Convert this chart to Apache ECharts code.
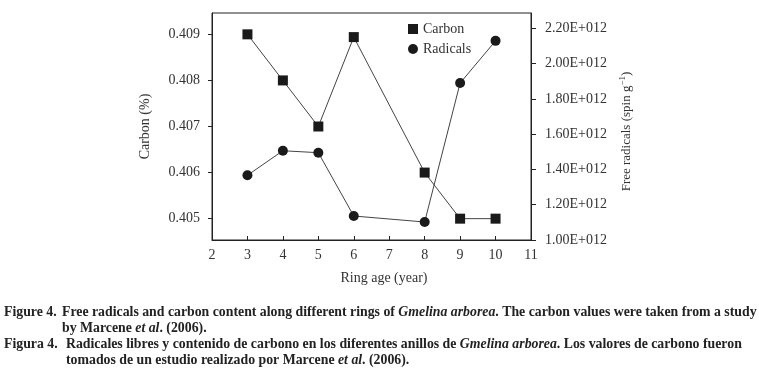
<!DOCTYPE html>
<html>
<head>
<meta charset="utf-8">
<script src="https://cdn.jsdelivr.net/npm/echarts@6/dist/echarts.min.js"></script>
<style>
  html, body { margin: 0; padding: 0; background: #fff; }
  #chart { width: 759px; height: 374px; }
</style>
</head>
<body>
<div id="chart"></div>
<script>
// ring age (year)
const ringAge = [3, 4, 5, 6, 8, 9, 10]
// carbon (%)
const carbon = [0.409, 0.408, 0.407, 0.40894, 0.406, 0.405, 0.405]
// free radicals (spin g-1)
const radicals = [1.367e12, 1.506e12, 1.495e12, 1.136e12, 1.102e12, 1.89e12, 2.129e12]

const carbonTicks = [0.405, 0.406, 0.407, 0.408, 0.409]
const radicalTicks = [1.0e12, 1.2e12, 1.4e12, 1.6e12, 1.8e12, 2.0e12, 2.2e12]

const serif = '"Liberation Serif", "DejaVu Serif", serif'
const textStyle = {
  fontFamily: serif,
  fontSize: 14,
  color: '#333'
}
const capSize = 13.8
const capStyle = {
  fontFamily: serif,
  fontWeight: 'bold',
  fontSize: capSize,
  fill: '#222'
}
const capRich = {
  i: { fontFamily: serif, fontWeight: 'bold', fontStyle: 'italic', fontSize: capSize, color: '#222' }
}

function caption(x, y, text) {
  return {
    type: 'text',
    left: x,
    top: y,
    style: Object.assign({}, capStyle, { text: text, rich: capRich })
  }
}

const chart = echarts.init(document.getElementById('chart'))
chart.setOption({
  animation: false,
  backgroundColor: '#fff',
  grid: {
    left: 212,
    right: 228,
    top: 13,
    bottom: 134,
    show: true,
    borderColor: '#222',
    borderWidth: 1
  },
  legend: {
    orient: 'vertical',
    left: 403,
    top: 17,
    itemWidth: 10,
    itemHeight: 10,
    itemGap: 6,
    textStyle: textStyle,
    data: [
      { name: 'Carbon', icon: 'rect' },
      { name: 'Radicals', icon: 'circle' }
    ]
  },
  xAxis: {
    type: 'value',
    min: 2,
    max: 11,
    interval: 1,
    name: 'Ring age (year)',
    nameLocation: 'middle',
    nameGap: 31,
    nameTextStyle: Object.assign({}, textStyle, { padding: [0, 0, 0, 25] }),
    axisLine: { lineStyle: { color: '#222' } },
    axisTick: { inside: true, length: 4, lineStyle: { color: '#222' } },
    axisLabel: Object.assign({}, textStyle, { margin: 8 }),
    splitLine: { show: false }
  },
  yAxis: [
    {
      type: 'value',
      min: 0.404537,
      max: 0.409463,
      name: 'Carbon (%)',
      nameLocation: 'middle',
      nameGap: 60,
      nameTextStyle: textStyle,
      axisLine: { show: true, lineStyle: { color: '#222' } },
      axisTick: { show: true, length: 4, customValues: carbonTicks, lineStyle: { color: '#222' } },
      axisLabel: Object.assign({}, textStyle, {
        margin: 12,
        customValues: carbonTicks,
        formatter: v => v.toFixed(3)
      }),
      splitLine: { show: false }
    },
    {
      type: 'value',
      min: 1.0e12,
      max: 2.287e12,
      position: 'right',
      name: 'Free radicals (spin g{sup|−1})',
      nameLocation: 'middle',
      nameGap: 87,
      nameRotate: 90,
      nameTextStyle: Object.assign({}, textStyle, {
        fontSize: 13,
        padding: [0, 10, 0, 0],
        rich: { sup: { fontFamily: serif, fontSize: 9, color: '#333', padding: [0, 0, 8, 0] } }
      }),
      axisLine: { show: true, lineStyle: { color: '#222' } },
      axisTick: { show: true, length: 5, customValues: radicalTicks, lineStyle: { color: '#222' } },
      axisLabel: Object.assign({}, textStyle, {
        margin: 14,
        customValues: radicalTicks,
        formatter: v => (v / 1e12).toFixed(2) + 'E+012'
      }),
      splitLine: { show: false }
    }
  ],
  series: [
    {
      name: 'Carbon',
      type: 'line',
      yAxisIndex: 0,
      symbol: 'rect',
      symbolSize: 10,
      data: ringAge.map((x, i) => [x, carbon[i]]),
      itemStyle: { color: '#1a1a1a' },
      lineStyle: { color: '#444', width: 1 }
    },
    {
      name: 'Radicals',
      type: 'line',
      yAxisIndex: 1,
      symbol: 'circle',
      symbolSize: 10,
      data: ringAge.map((x, i) => [x, radicals[i]]),
      itemStyle: { color: '#1a1a1a' },
      lineStyle: { color: '#444', width: 1 }
    }
  ],
  graphic: [
    caption(4, 305, 'Figure 4.'),
    caption(62, 305, 'Free radicals and carbon content along different rings of {i|Gmelina arborea}. The carbon values were taken from a study'),
    caption(62, 321, 'by Marcene {i|et al}. (2006).'),
    caption(4, 337, 'Figura 4.'),
    caption(66, 337, 'Radicales libres y contenido de carbono en los diferentes anillos de {i|Gmelina arborea}. Los valores de carbono fueron'),
    caption(66, 353, 'tomados de un estudio realizado por Marcene {i|et al}. (2006).')
  ]
})
</script>
</body>
</html>
